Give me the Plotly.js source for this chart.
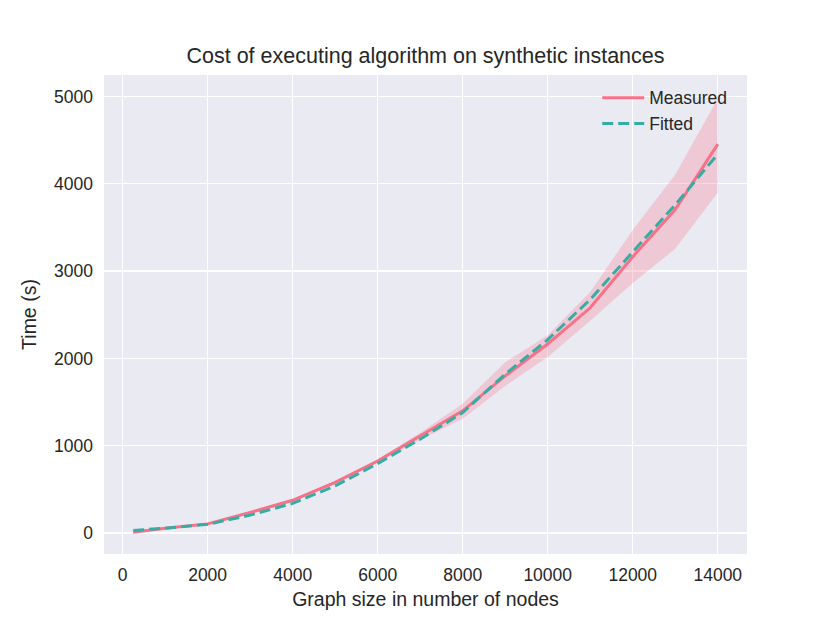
<!DOCTYPE html>
<html>
<head>
<meta charset="utf-8">
<script src="https://cdn.plot.ly/plotly-3.0.1.min.js"></script>
<style>html,body{margin:0;padding:0;background:#fff;}#chart{width:830px;height:623px;}</style>
</head>
<body>
<div id="chart"></div>
<script>
// Graph size (nodes)
const nodes = [250, 1000, 2000, 3000, 4000, 5000, 6000, 7000, 8000, 9000, 10000, 11000, 12000, 13000, 14000];
// Measured mean time (s)
const measured = [8, 55, 105, 235, 375, 580, 825, 1110, 1400, 1800, 2165, 2580, 3165, 3705, 4455];
// Confidence band of measured
const measuredUpper = [12, 62, 112, 245, 390, 595, 845, 1150, 1480, 1955, 2265, 2760, 3470, 4105, 4975];
const measuredLower = [4, 48, 98, 225, 360, 565, 805, 1065, 1310, 1685, 2015, 2430, 2865, 3255, 3900];
// Fitted time (s)
const fitted = [30, 55, 100, 205, 340, 540, 795, 1075, 1380, 1820, 2215, 2675, 3220, 3760, 4340];
// Tick labels
const xTicks = [0, 2000, 4000, 6000, 8000, 10000, 12000, 14000];
const xTickText = ['0', '2000', '4000', '6000', '8000', '10000', '12000', '14000'];
const yTicks = [0, 1000, 2000, 3000, 4000, 5000];
const yTickText = ['0', '1000', '2000', '3000', '4000', '5000'];

const pink = '#f77189';
const teal = '#36ada4';
const textColor = '#262626';
const fontFam = '"Liberation Sans", Arial, sans-serif';

const traces = [
  {x: nodes, y: measuredUpper, mode: 'lines', line: {width: 0, color: pink}, showlegend: false, hoverinfo: 'skip'},
  {x: nodes, y: measuredLower, mode: 'lines', line: {width: 0, color: pink}, fill: 'tonexty', fillcolor: 'rgba(247,113,137,0.28)', showlegend: false, hoverinfo: 'skip'},
  {x: nodes, y: measured, mode: 'lines', name: 'Measured', line: {color: pink, width: 3}},
  {x: nodes, y: fitted, mode: 'lines', name: 'Fitted', line: {color: teal, width: 3, dash: '11px,5px'}}
];

const axisCommon = {
  showline: false, zeroline: false, ticks: '', gridcolor: '#ffffff', gridwidth: 1.4,
  tickfont: {family: fontFam, size: 17.5, color: textColor}
};

const layout = {
  width: 830, height: 623,
  paper_bgcolor: '#ffffff', plot_bgcolor: '#eaeaf2',
  margin: {l: 104, r: 83, t: 75, b: 69},
  title: {text: 'Cost of executing algorithm on synthetic instances', font: {family: fontFam, size: 21.5, color: textColor}, xref: 'paper', x: 0.5, xanchor: 'center', y: 1 - 55/623, yanchor: 'middle'},
  xaxis: Object.assign({}, axisCommon, {
    range: [-437.5, 14687.5], tickmode: 'array', tickvals: xTicks, ticktext: xTickText,
    title: {text: 'Graph size in number of nodes', font: {family: fontFam, size: 19.5, color: textColor}, standoff: 8},
    ticklabelstandoff: 8
  }),
  yaxis: Object.assign({}, axisCommon, {
    range: [-240, 5246], tickmode: 'array', tickvals: yTicks, ticktext: yTickText,
    title: {text: 'Time (s)', font: {family: fontFam, size: 19.5, color: textColor}, standoff: 12},
    ticklabelstandoff: 10
  }),
  legend: {x: 0.977, xanchor: 'right', y: 0.99, yanchor: 'top', traceorder: 'normal', itemwidth: 42, bgcolor: 'rgba(0,0,0,0)', font: {family: fontFam, size: 17.5, color: textColor}, tracegroupgap: 0},
  showlegend: true
};

Plotly.newPlot('chart', traces, layout, {displayModeBar: false, staticPlot: true});
</script>
</body>
</html>
